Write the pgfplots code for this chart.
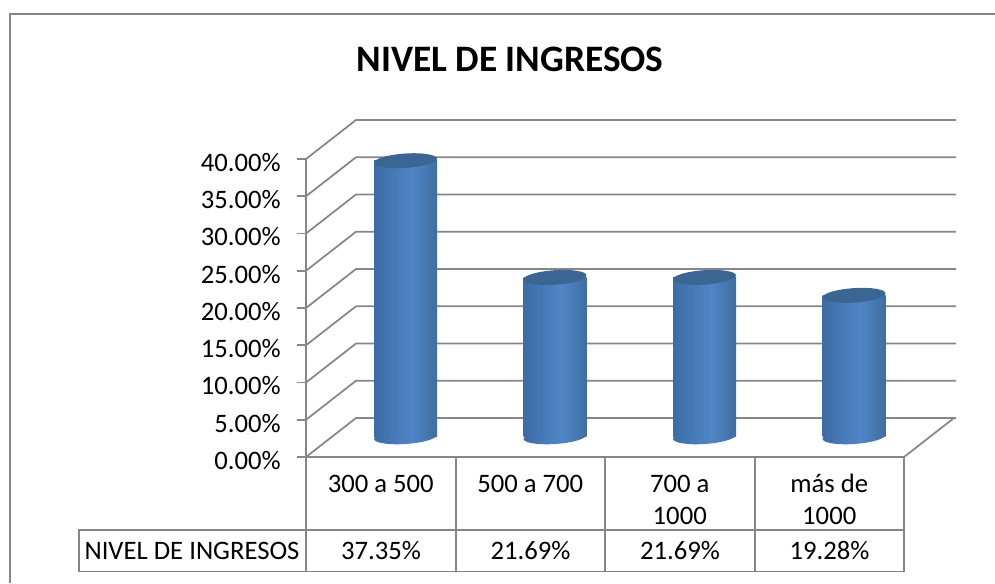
\documentclass[border=0pt]{standalone}
\usepackage{pgfplots}
\pgfplotsset{compat=1.18}
\usepackage{fontspec}
\setmainfont{Carlito}
\definecolor{wall}{HTML}{868686}
\definecolor{capblue}{HTML}{3B6593}
\definecolor{cyla}{HTML}{264A78}
\definecolor{cylb}{HTML}{3A6AA2}
\definecolor{cylc}{HTML}{5085C6}
\definecolor{cyld}{HTML}{3B6899}
\definecolor{cyle}{HTML}{1F3858}
\pgfdeclarehorizontalshading{cyl}{100bp}{color(0bp)=(cyla); color(22bp)=(cylb); color(55bp)=(cylc); color(80bp)=(cyld); color(100bp)=(cyle)}
\pgfdeclareplotmark{captop}{%
  \pgfpathellipse{\pgfpointorigin}{\pgfqpoint{23.6pt}{1.6pt}}{\pgfqpoint{-0.4pt}{5.4pt}}%
  \pgfusepathqfill}
\pgfdeclareplotmark{capbase}{%
  \pgfpathellipse{\pgfpointorigin}{\pgfqpoint{23.6pt}{1.6pt}}{\pgfqpoint{-0.4pt}{5.4pt}}%
  \pgfshadepath{cyl}{0}\pgfusepath{discard}}
\pgfplotsset{cylbar/.style={ybar,bar width=47.25pt,bar shift=0pt,draw=none,shade,shading=cyl,mark=none}}
\begin{document}
\begin{tikzpicture}[x=0.75pt,y=0.75pt,font=\fontsize{20}{24}\selectfont]
\useasboundingbox (0,0) rectangle (995,583);
% outer frame, runs off the page on the right and at the bottom
\draw[wall,line width=1.3pt] (10,0) -- (10,569) -- (995,569);
% front plane: axis, walls
\begin{axis}[
  at={(229.5pt,94.5pt)}, anchor=south west, scale only axis,
  width=448.5pt, height=223.5pt,
  xmin=0, xmax=4, ymin=0, ymax=40,
  clip=false, axis line style={draw=none},
  axis y line*=left, axis x line*=bottom,
  xtick={0.5,1.5,2.5,3.5},
  xticklabels={\strut 300 a 500,\strut 500 a 700,{\strut 700 a\\1000},{\strut más de\\1000}},
  x tick label style={align=center,anchor=north,yshift=0.5pt,font=\fontsize{20}{24}\selectfont},
  x tick style={draw=none},
  ytick={0,5,...,40},
  y tick style={wall,line width=1.3pt},
  tick align=outside, major tick length=6.5pt,
  yticklabel={\pgfmathprintnumber{\tick}\%},
  y tick label style={/pgf/number format/fixed,/pgf/number format/fixed zerofill,
    /pgf/number format/precision=2,/pgf/number format/assume math mode=true,
    xshift=-9pt,yshift=-2.5pt,font=\fontsize{20}{24}\selectfont},
]
\pgfplotsinvokeforeach{0,5,...,40}{
  \draw[wall,line width=1.3pt] (axis cs:0,#1) -- ++(37.5pt,29.25pt) -- ++(450pt,0pt);
}
\draw[wall,line width=1.3pt] (axis cs:0,0) -- (axis cs:0,40);
\draw[wall,line width=1.3pt] (axis cs:4,0) -- ++(37.5pt,29.25pt);
\end{axis}
% mid-depth plane: the cylinders
\begin{axis}[
  at={(248.06pt,109.67pt)}, anchor=south west, scale only axis,
  width=448.5pt, height=221.83pt,
  xmin=-0.5, xmax=3.5, ymin=0.3, ymax=40,
  hide axis, clip mode=individual,
]
\addplot[only marks,mark=capbase] coordinates {(0,0.3)(1,0.3)(2,0.3)(3,0.3)};
\addplot[cylbar] coordinates {(0,37.35)};
\addplot[cylbar] coordinates {(1,21.69)};
\addplot[cylbar] coordinates {(2,21.69)};
\addplot[cylbar] coordinates {(3,19.28)};
\addplot[only marks,mark=captop,mark options={draw=none,fill=capblue}]
  coordinates {(0,37.35)(1,21.69)(2,21.69)(3,19.28)};
\end{axis}
% data table under the plot
\draw[wall,line width=1.3pt] (306,126) -- (904,126);
\draw[wall,line width=1.3pt] (79,53) rectangle (904,11.5);
\foreach \x in {306,456,605,755,904} \draw[wall,line width=1.3pt] (\x,126) -- (\x,11.5);
\node[anchor=base] at (192,24) {NIVEL DE INGRESOS};
\node[anchor=base] at (381,24) {37.35\%};
\node[anchor=base] at (530.5,24) {21.69\%};
\node[anchor=base] at (680,24) {21.69\%};
\node[anchor=base] at (829.5,24) {19.28\%};
\node[font=\fontsize{28}{34}\selectfont\bfseries] at (510,524) {NIVEL DE INGRESOS};
\end{tikzpicture}
\end{document}
